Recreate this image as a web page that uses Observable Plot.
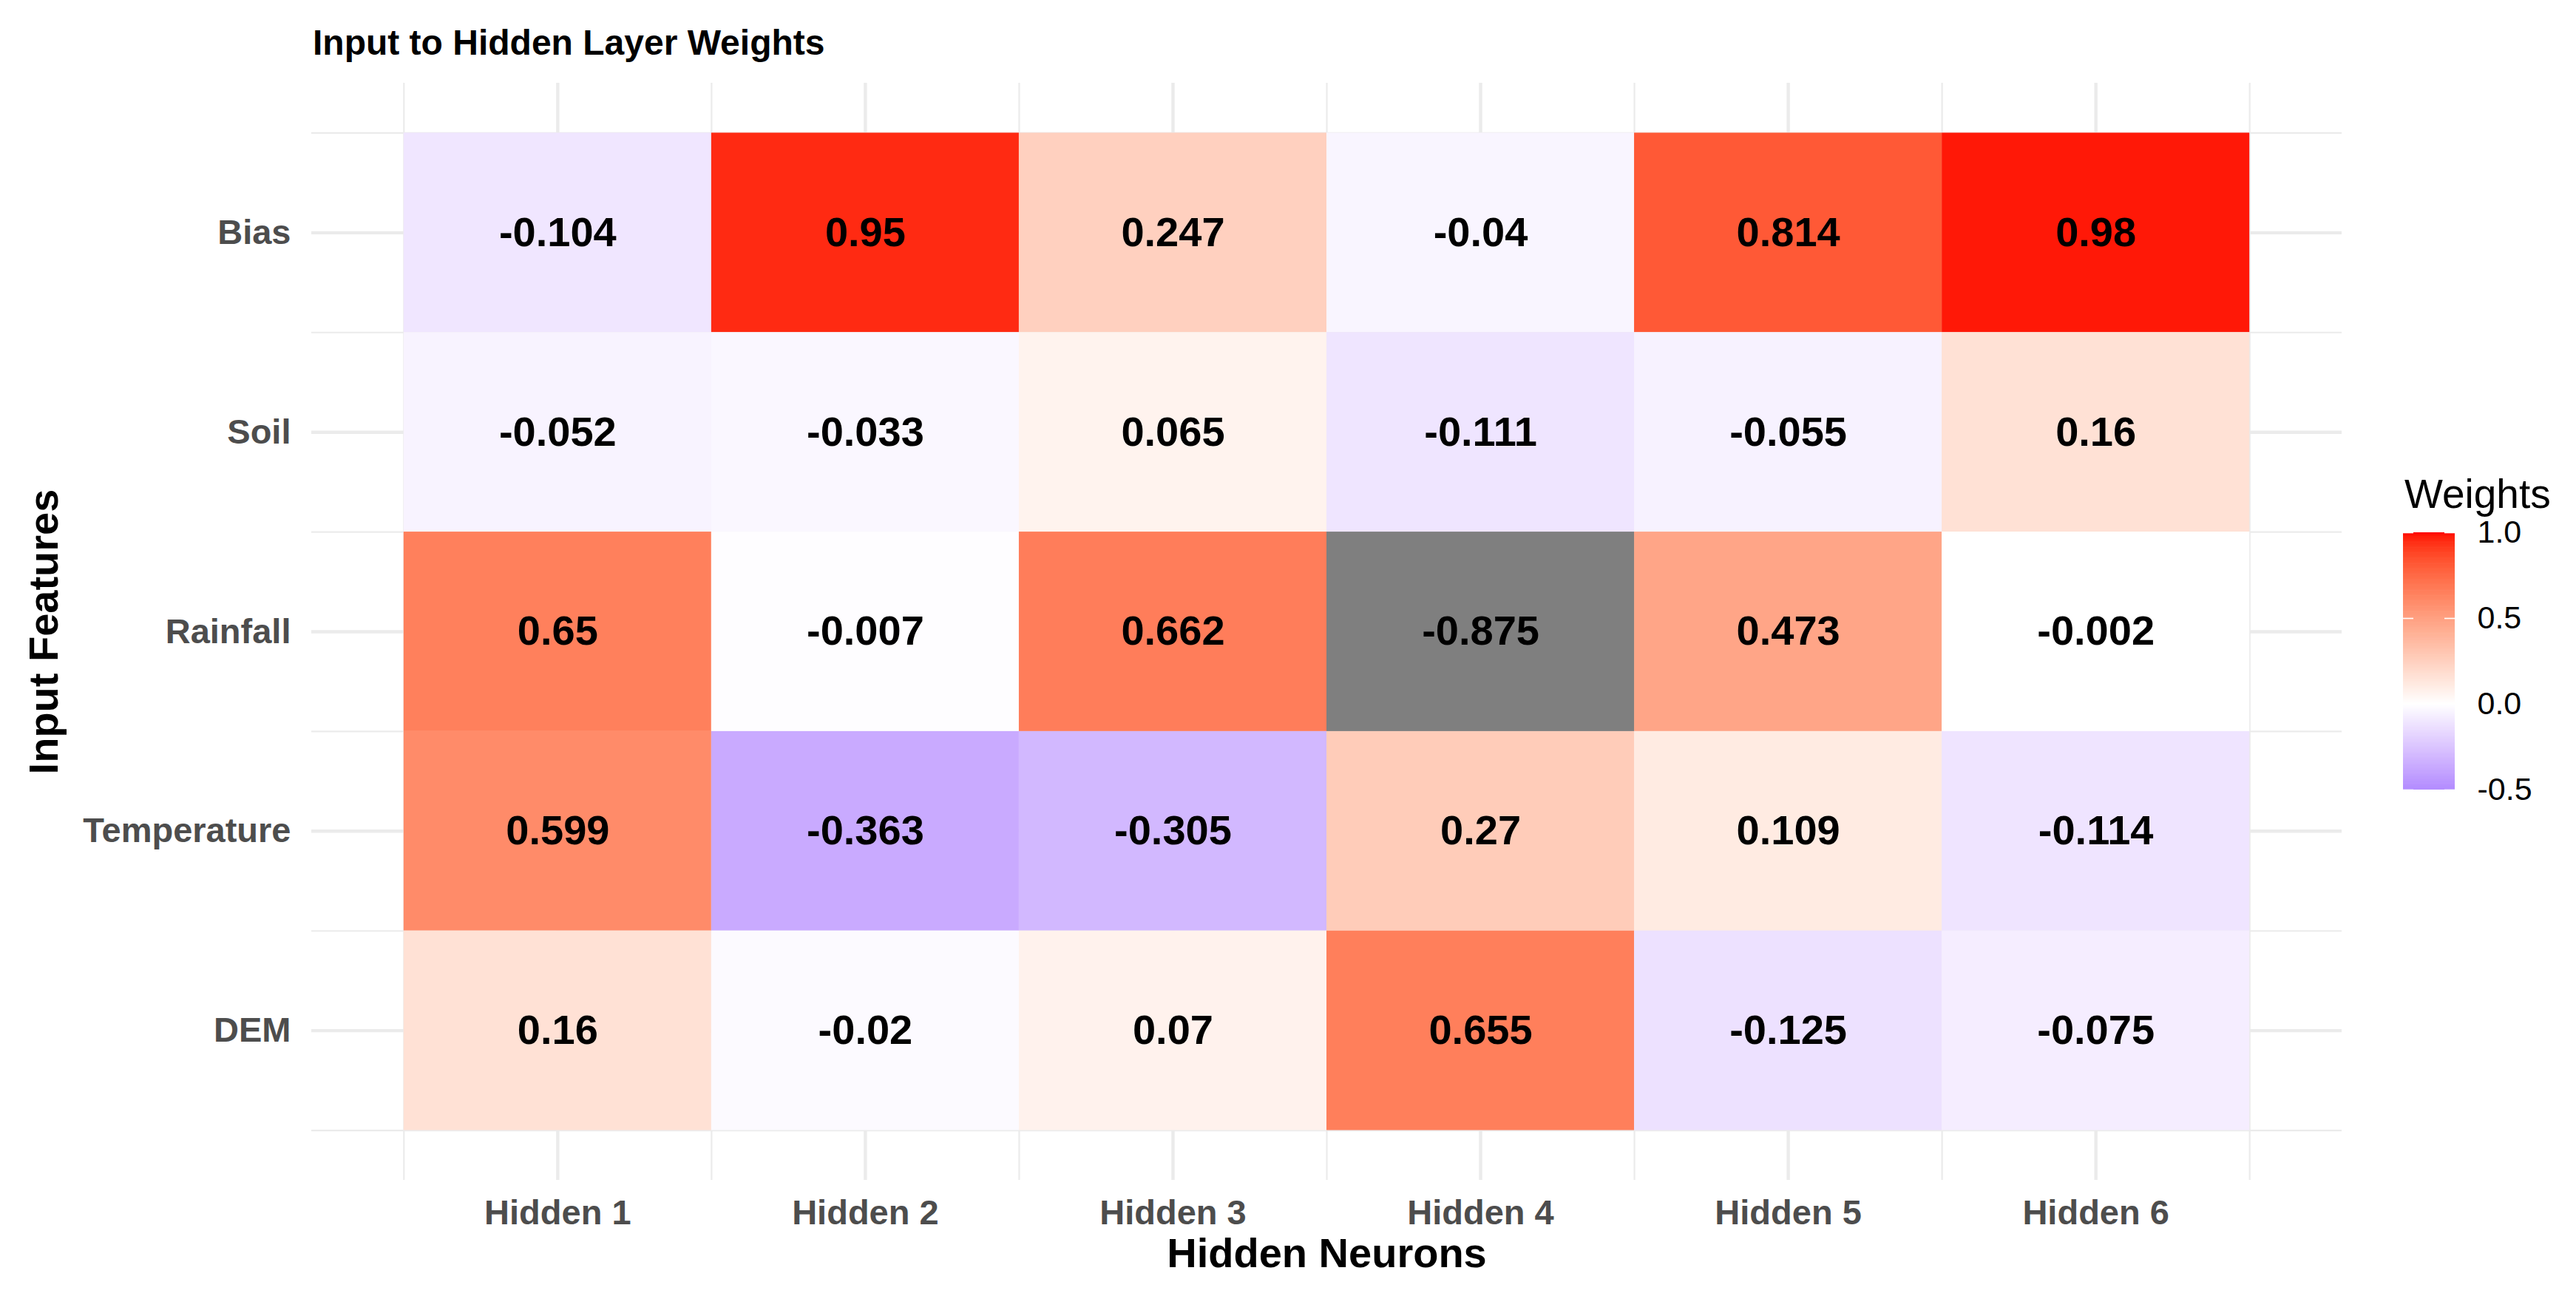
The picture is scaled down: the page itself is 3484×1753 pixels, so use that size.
<!DOCTYPE html>
<html>
<head>
<meta charset="utf-8">
<script src="https://cdn.jsdelivr.net/npm/d3@7"></script>
<script src="https://cdn.jsdelivr.net/npm/@observablehq/plot@0.6"></script>
<style>
html, body { margin: 0; padding: 0; background: #fff; }
#wrap { position: relative; width: 3484px; height: 1753px; font-family: "Liberation Sans", Arial, sans-serif; background: #fff; overflow: hidden; }
#title { position: absolute; left: 423px; top: 30px; font-size: 48px; font-weight: bold; line-height: normal; color: #000; white-space: nowrap; }
#legtitle { position: absolute; left: 3252px; top: 636px; font-size: 55px; line-height: normal; color: #000; white-space: nowrap; }
#main { position: absolute; left: 0; top: 100px; }
#legend { position: absolute; left: 3250px; top: 700px; }
svg { overflow: visible; }
</style>
</head>
<body>
<div id="wrap">
  <div id="title">Input to Hidden Layer Weights</div>
  <div id="main"></div>
  <div id="legtitle">Weights</div>
  <div id="legend"></div>
</div>
<script>
// ---- data ----
const neurons = ["Hidden 1", "Hidden 2", "Hidden 3", "Hidden 4", "Hidden 5", "Hidden 6"];
const features = ["Bias", "Soil", "Rainfall", "Temperature", "DEM"]; // top to bottom
const biasWeights        = [-0.104, 0.95, 0.247, -0.04, 0.814, 0.98];
const soilWeights        = [-0.052, -0.033, 0.065, -0.111, -0.055, 0.16];
const rainfallWeights    = [0.65, -0.007, 0.662, -0.875, 0.473, -0.002];
const temperatureWeights = [0.599, -0.363, -0.305, 0.27, 0.109, -0.114];
const demWeights         = [0.16, -0.02, 0.07, 0.655, -0.125, -0.075];
const colorLimits = [-0.5, 1];
const legendBreaks = [-0.5, 0, 0.5, 1];
const xTitle = "Hidden Neurons";
const yTitle = "Input Features";

// ---- table ----
const series = [biasWeights, soilWeights, rainfallWeights, temperatureWeights, demWeights];
const table = [];
features.forEach((f, fi) => {
  series[fi].forEach((v, ni) => {
    table.push({feature: f, neuron: neurons[ni], xi: ni + 1, yi: features.length - fi, value: v});
  });
});
const inRange = d => d.value >= colorLimits[0] && d.value <= colorLimits[1];

const color = {
  type: "linear",
  domain: [colorLimits[0], 0, colorLimits[1]],
  range: ["#b28bff", "#ffffff", "#ff0000"],
  interpolate: "lab"
};

const majorX = d3.range(1, neurons.length + 1);
const minorX = d3.range(0, neurons.length + 1).map(i => i + 0.5);
const majorY = d3.range(1, features.length + 1);
const minorY = d3.range(0, features.length + 1).map(i => i + 0.5);

const font = "'Liberation Sans', Arial, sans-serif";
const grid = "#ebebeb";

const main = Plot.plot({
  width: 3200,
  height: 1653,
  marginTop: 12,
  marginBottom: 157,
  marginLeft: 421,
  marginRight: 33,
  style: {fontFamily: font, background: "transparent", overflow: "visible"},
  x: {type: "linear", domain: [0.2, neurons.length + 0.8]},
  y: {type: "linear", domain: [0.25, features.length + 0.75]},
  color,
  marks: [
    Plot.ruleX(minorX, {x: d => d, stroke: grid, strokeWidth: 2.2}),
    Plot.ruleX(majorX, {x: d => d, stroke: grid, strokeWidth: 4.4}),
    Plot.ruleY(minorY, {y: d => d, stroke: grid, strokeWidth: 2.2}),
    Plot.ruleY(majorY, {y: d => d, stroke: grid, strokeWidth: 4.4}),
    Plot.rect(table.filter(inRange), {
      x1: d => d.xi - 0.5, x2: d => d.xi + 0.5,
      y1: d => d.yi - 0.5, y2: d => d.yi + 0.5,
      fill: "value"
    }),
    Plot.rect(table.filter(d => !inRange(d)), {
      x1: d => d.xi - 0.5, x2: d => d.xi + 0.5,
      y1: d => d.yi - 0.5, y2: d => d.yi + 0.5,
      fill: "#7f7f7f"
    }),
    Plot.text(table, {
      x: "xi", y: "yi", text: d => String(d.value),
      fontSize: 56, fontWeight: "bold", fill: "#000"
    }),
    Plot.axisX({
      ticks: majorX, tickFormat: i => neurons[i - 1],
      tickSize: 0, tickPadding: 26, fontSize: 47, fontWeight: "bold",
      fill: "#4d4d4d", label: null
    }),
    Plot.axisY({
      ticks: majorY, tickFormat: i => features[features.length - i],
      tickSize: 0, tickPadding: 28, fontSize: 47, fontWeight: "bold",
      fill: "#4d4d4d", label: null
    }),
    Plot.text([xTitle], {
      text: d => d, frameAnchor: "bottom", dy: 117, lineAnchor: "bottom", textAnchor: "middle",
      fontSize: 56, fontWeight: "bold", fill: "#000"
    }),
    Plot.text([yTitle], {
      text: d => d, frameAnchor: "left", dx: -383, rotate: -90, lineAnchor: "top", textAnchor: "middle",
      fontSize: 56, fontWeight: "bold", fill: "#000"
    })
  ]
});
document.getElementById("main").appendChild(main);

// ---- legend (colour bar) ----
const nSteps = 300;
const stepSize = (colorLimits[1] - colorLimits[0]) / nSteps;
const steps = d3.range(nSteps).map(i => colorLimits[0] + i * stepSize);

const legend = Plot.plot({
  width: 234,
  height: 420,
  marginTop: 20,
  marginBottom: 52,
  marginLeft: 0,
  marginRight: 164,
  style: {fontFamily: font, background: "transparent", overflow: "visible"},
  x: {domain: [0, 1], axis: null},
  y: {domain: colorLimits, axis: null},
  color,
  marks: [
    Plot.rect(steps, {
      x1: 0, x2: 1,
      y1: d => d, y2: d => Math.min(d + stepSize * 1.6, colorLimits[1]),
      fill: d => d + stepSize / 2
    }),
    Plot.ruleY(legendBreaks, {y: d => d, x1: 0, x2: 0.2, stroke: "#fff", strokeWidth: 1.6}),
    Plot.ruleY(legendBreaks, {y: d => d, x1: 0.8, x2: 1, stroke: "#fff", strokeWidth: 1.6}),
    Plot.axisY({
      anchor: "right", ticks: legendBreaks, tickFormat: d => d.toFixed(1),
      tickSize: 0, tickPadding: 30, fontSize: 43, fill: "#000", label: null
    })
  ]
});
document.getElementById("legend").appendChild(legend);
</script>
</body>
</html>
